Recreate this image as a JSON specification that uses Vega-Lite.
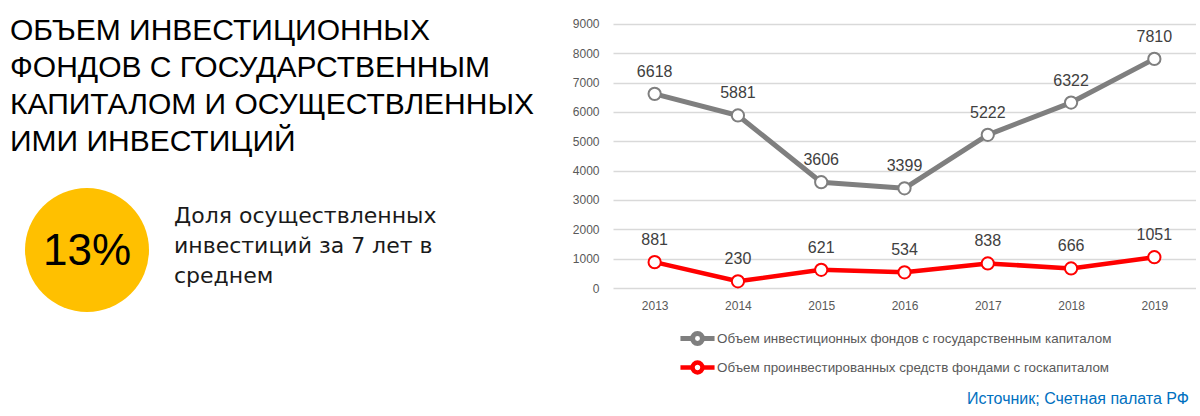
{
  "$schema": "https://vega.github.io/schema/vega-lite/v6.json",
  "background": "white",
  "padding": 0,
  "spacing": 0,
  "config": {"view": {"stroke": null}},
  "hconcat": [
    {
      "width": 572,
      "height": 288,
      "layer": [
        {
          "data": {"values": [{"title": "ОБЪЕМ ИНВЕСТИЦИОННЫХ\nФОНДОВ С ГОСУДАРСТВЕННЫМ\nКАПИТАЛОМ И ОСУЩЕСТВЛЕННЫХ\nИМИ ИНВЕСТИЦИЙ"}]},
          "mark": {"type": "text", "align": "left", "baseline": "middle", "lineBreak": "\n", "lineHeight": 37, "font": "Liberation Sans", "fontSize": 30, "color": "#000000"},
          "encoding": {
            "x": {"datum": 10, "type": "quantitative", "scale": {"domain": [0, 572], "nice": false, "zero": false}, "axis": null},
            "y": {"datum": 31, "type": "quantitative", "scale": {"domain": [0, 288], "nice": false, "reverse": true, "zero": false}, "axis": null},
            "text": {"field": "title"}
          }
        },
        {
          "data": {"values": [{"share": "13%"}]},
          "mark": {"type": "point", "shape": "circle", "filled": true, "color": "#FFC000", "opacity": 1, "size": 15376},
          "encoding": {
            "x": {"datum": 87, "type": "quantitative"},
            "y": {"datum": 250, "type": "quantitative"}
          }
        },
        {
          "data": {"values": [{"share": "13%"}]},
          "mark": {"type": "text", "align": "center", "baseline": "middle", "font": "Liberation Sans", "fontSize": 44, "color": "#000000"},
          "encoding": {
            "x": {"datum": 87, "type": "quantitative"},
            "y": {"datum": 252, "type": "quantitative"},
            "text": {"field": "share"}
          }
        },
        {
          "data": {"values": [{"note": "Доля осуществленных\nинвестиций за 7 лет в\nсреднем"}]},
          "mark": {"type": "text", "align": "left", "baseline": "middle", "lineBreak": "\n", "lineHeight": 30, "font": "DejaVu Sans", "fontSize": 22, "color": "#1a1a1a"},
          "encoding": {
            "x": {"datum": 174, "type": "quantitative"},
            "y": {"datum": 216, "type": "quantitative"},
            "text": {"field": "note"}
          }
        }
      ]
    },
    {
      "width": 583,
      "height": 288,
      "title": {"text": "Источник; Счетная палата РФ", "orient": "bottom", "anchor": "end", "frame": "group", "font": "Liberation Sans", "fontSize": 16, "fontWeight": "normal", "color": "#0070C0", "offset": 80, "dx": -7},
      "data": {"values": [
        {"year": "2013", "series": "Объем инвестиционных фондов с государственным капиталом", "value": 6618},
        {"year": "2014", "series": "Объем инвестиционных фондов с государственным капиталом", "value": 5881},
        {"year": "2015", "series": "Объем инвестиционных фондов с государственным капиталом", "value": 3606},
        {"year": "2016", "series": "Объем инвестиционных фондов с государственным капиталом", "value": 3399},
        {"year": "2017", "series": "Объем инвестиционных фондов с государственным капиталом", "value": 5222},
        {"year": "2018", "series": "Объем инвестиционных фондов с государственным капиталом", "value": 6322},
        {"year": "2019", "series": "Объем инвестиционных фондов с государственным капиталом", "value": 7810},
        {"year": "2013", "series": "Объем проинвестированных средств фондами с госкапиталом", "value": 881},
        {"year": "2014", "series": "Объем проинвестированных средств фондами с госкапиталом", "value": 230},
        {"year": "2015", "series": "Объем проинвестированных средств фондами с госкапиталом", "value": 621},
        {"year": "2016", "series": "Объем проинвестированных средств фондами с госкапиталом", "value": 534},
        {"year": "2017", "series": "Объем проинвестированных средств фондами с госкапиталом", "value": 838},
        {"year": "2018", "series": "Объем проинвестированных средств фондами с госкапиталом", "value": 666},
        {"year": "2019", "series": "Объем проинвестированных средств фондами с госкапиталом", "value": 1051}
      ]},
      "encoding": {
        "x": {"field": "year", "type": "ordinal", "scale": {"type": "point", "padding": 0.5},
              "axis": {"title": null, "labelAngle": 0, "domain": false, "ticks": false, "labelPadding": 12, "labelFont": "Liberation Sans", "labelFontSize": 12, "labelColor": "#595959"}},
        "y": {"field": "value", "type": "quantitative", "scale": {"domain": [0, 9818.18], "nice": false},
              "axis": {"title": null, "format": "d", "values": [0, 1000, 2000, 3000, 4000, 5000, 6000, 7000, 8000, 9000], "grid": true, "gridColor": "#D9D9D9", "gridWidth": 1.3, "domain": false, "ticks": false, "labelPadding": 14, "labelFont": "Liberation Sans", "labelFontSize": 12, "labelColor": "#595959"}}
      },
      "layer": [
        {
          "mark": {"type": "line", "strokeCap": "round", "strokeJoin": "round"},
          "encoding": {
            "color": {"field": "series", "type": "nominal",
              "scale": {"domain": ["Объем инвестиционных фондов с государственным капиталом", "Объем проинвестированных средств фондами с госкапиталом"], "range": ["#7F7F7F", "#FF0000"]},
              "legend": {"orient": "none", "legendX": 684, "legendY": 325, "direction": "vertical", "title": null,
                         "symbolType": "M-1.55,0H-0.45M0.45,0H1.55M-0.45,0A0.45,0.45,0,1,1,0.45,0A0.45,0.45,0,1,1,-0.45,0Z",
                         "symbolSize": 484, "symbolStrokeWidth": 3.5, "symbolFillColor": "white",
                         "labelFont": "Liberation Sans", "labelFontSize": 13.4, "labelColor": "#595959", "labelLimit": 600, "labelOffset": 6, "rowPadding": -2}},
            "strokeWidth": {"field": "series", "type": "nominal",
              "scale": {"domain": ["Объем инвестиционных фондов с государственным капиталом", "Объем проинвестированных средств фондами с госкапиталом"], "range": [5, 4.5]},
              "legend": null}
          }
        },
        {
          "mark": {"type": "point", "shape": "circle", "filled": false, "fill": "white", "opacity": 1, "size": 150, "strokeWidth": 2},
          "encoding": {
            "color": {"field": "series", "type": "nominal"}
          }
        },
        {
          "mark": {"type": "text", "dy": -22, "font": "Liberation Sans", "fontSize": 16, "color": "#404040"},
          "encoding": {"text": {"field": "value", "type": "quantitative"}}
        }
      ]
    }
  ]
}
